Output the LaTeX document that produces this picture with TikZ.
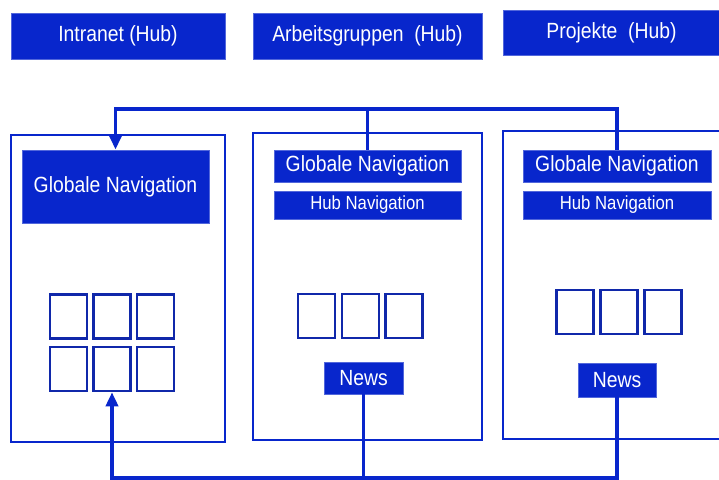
\documentclass[tikz,border=0pt]{standalone}
\usepackage{xcolor}
\usepackage{fontspec}
\setmainfont{Liberation Sans}[FakeStretch=0.88]
\usetikzlibrary{arrows.meta}
\definecolor{hubblue}{RGB}{8,38,204}
\definecolor{tileblue}{RGB}{16,40,170}

\begin{document}
\begin{tikzpicture}[x=1pt,y=-1pt,
	hub/.style = {draw=hubblue!70!white, line width=0.8pt, fill=hubblue, text=white,
		inner sep=0pt, font=\fontsize{22}{24}\selectfont},
	small/.style = {hub, font=\fontsize{19}{21}\selectfont},
	frame/.style = {draw=hubblue, line width=1.5pt, inner sep=0pt},
	tile/.style = {draw=tileblue, line width=2.5pt, inner sep=0pt,
		minimum width=37pt, minimum height=44pt},
	link/.style = {draw=hubblue, line width=3.5pt},
	tip/.style = {-{Triangle[width=12pt,length=14pt]}}
	]
	\useasboundingbox (0,0) rectangle (719,479);
	
	% the three hubs
	\node[hub, minimum width=214pt, minimum height=46pt] (intranet) at (118,36) {Intranet (Hub)};
	\node[hub, minimum width=229pt, minimum height=46pt] (arbeit) at (367.5,36) {Arbeitsgruppen~ (Hub)};
	\node[hub, minimum width=217pt, minimum height=45pt] (projekte) at (611.5,32.5) {Projekte~ (Hub)};
	
	% the pages
	\node[frame, minimum width=214pt, minimum height=307pt] (frameL) at (118,288.5) {};
	\node[frame, minimum width=229pt, minimum height=307pt] (frameM) at (367.5,286.5) {};
	\node[frame, minimum width=217pt, minimum height=308pt] (frameR) at (611.5,285) {};
	
	\node[hub, minimum width=187pt, minimum height=73pt] (gnL) at (115.5,186.5) {Globale Navigation};
	\node[hub, minimum width=187pt, minimum height=32pt] (gnM) at (367.5,166) {Globale Navigation};
	\node[small, minimum width=187pt, minimum height=28pt] (hnM) at (367.5,205) {Hub Navigation};
	\node[hub, minimum width=188pt, minimum height=32pt] (gnR) at (617,166) {Globale Navigation};
	\node[small, minimum width=188pt, minimum height=28pt] (hnR) at (617,205) {Hub Navigation};
	
	% tiles
	\foreach \x [count=\i] in {68.5,112,155.5}{
		\node[tile] (sqL\i) at (\x,316.5) {};
		\pgfmathtruncatemacro\j{\i+3}
		\node[tile] (sqL\j) at (\x,369) {};
	}
	\foreach \x [count=\i] in {316.5,360.5,404}
		\node[tile] (sqM\i) at (\x,316) {};
	\foreach \x [count=\i] in {575,619,663}
		\node[tile] (sqR\i) at (\x,312) {};
	
	\node[hub, minimum width=79pt, minimum height=32pt] (newsM) at (363.5,378) {News};
	\node[hub, minimum width=78pt, minimum height=34pt] (newsR) at (617,380) {News};
	
	% connectors
	\coordinate (topjoin) at (115.5,109);
	\coordinate (botjoin) at (112,478);
	\draw[link, tip] (gnR.north) |- (topjoin) -- (gnL.north);
	\draw[link] (gnM.north) -- (gnM.north |- topjoin);
	\draw[link, tip] (newsR.south) |- (botjoin) -- (sqL5.south);
	\draw[link] (newsM.south) -- (newsM.south |- botjoin);
	
\end{tikzpicture}
\end{document}
